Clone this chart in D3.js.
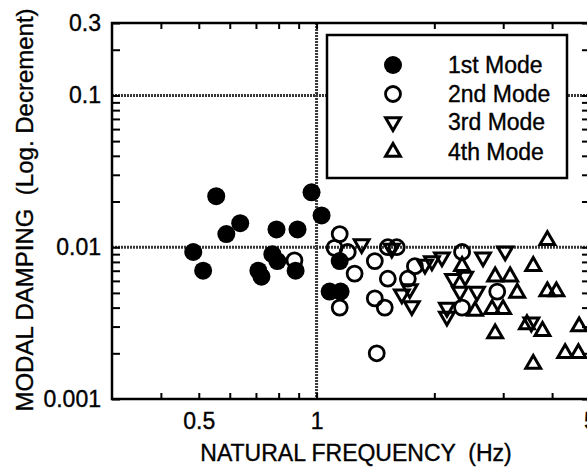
<!DOCTYPE html>
<html>
<head>
<meta charset="utf-8">
<script src="https://cdn.jsdelivr.net/npm/d3@7"></script>
<style>
  body { margin: 0; background: #fff; }
  svg { display: block; font-family: "Liberation Sans", Arial, sans-serif; }
  svg text { fill: #000; stroke: #000; stroke-width: 0.35; }
  .frame { fill: none; stroke: #000; stroke-width: 2.5; }
  .grid { stroke: #383838; stroke-width: 3; stroke-dasharray: 2,1; }
  .tick line { stroke: #000; stroke-width: 2; }
  .tick text { font-size: 23px; }
</style>
</head>
<body>
<div id="chart"></div>
<script>
// [frequency (Hz), damping (log. decrement)]
const mode1 = [
  [0.554, 0.0217], [0.638, 0.0144], [0.588, 0.0122], [0.790, 0.0131],
  [0.894, 0.0131], [0.971, 0.0230], [1.030, 0.0162], [0.484, 0.0093],
  [0.513, 0.0070], [0.771, 0.0090], [0.794, 0.0081], [0.710, 0.0070],
  [0.723, 0.0064], [0.884, 0.0070], [1.146, 0.0081], [1.080, 0.0051],
  [1.152, 0.0051]
];
const mode2 = [
  [0.878, 0.0082], [1.146, 0.0122], [1.112, 0.0099], [1.201, 0.0093],
  [1.251, 0.0067], [1.146, 0.0040], [1.409, 0.0081], [1.521, 0.0100],
  [1.603, 0.0100], [1.521, 0.0062], [1.409, 0.0046], [1.494, 0.0040],
  [1.425, 0.0020], [1.784, 0.0075], [1.711, 0.0062], [2.355, 0.0093],
  [2.355, 0.0040], [2.896, 0.0051]
];
const mode3 = [
  [1.304, 0.0105], [1.557, 0.0098], [1.652, 0.0049], [1.731, 0.0053],
  [1.752, 0.0041], [1.893, 0.0077], [1.972, 0.0081], [2.092, 0.0086],
  [2.154, 0.0040], [2.154, 0.0035], [2.233, 0.0062], [2.398, 0.0064],
  [2.326, 0.0051], [2.571, 0.0051], [2.664, 0.0086], [3.035, 0.0094],
  [3.540, 0.0032]
];
const mode4 = [
  [3.890, 0.0111], [2.355, 0.0075], [3.580, 0.0075], [2.861, 0.0064],
  [3.125, 0.0064], [3.258, 0.0050], [3.890, 0.0051], [4.102, 0.0051],
  [2.542, 0.0038], [2.810, 0.0039], [2.998, 0.0039], [3.450, 0.0031],
  [3.780, 0.0028], [2.861, 0.0027], [4.690, 0.0030], [4.320, 0.0020],
  [4.670, 0.0020], [3.580, 0.0017]
];
const legendLabels = ["1st Mode", "2nd Mode", "3rd Mode", "4th Mode"];
const xTicks = [0.4, 0.5, 0.6, 0.7, 0.8, 0.9, 1, 2, 3, 4, 5];
const xLabels = [0.5, 1, 5];
const yTicks = [0.002, 0.003, 0.004, 0.005, 0.006, 0.007, 0.008, 0.009, 0.01,
  0.02, 0.03, 0.04, 0.05, 0.06, 0.07, 0.08, 0.09, 0.1, 0.2, 0.3, 0.001];
const yLabels = [0.001, 0.01, 0.1, 0.3];
const xGrid = [1];
const yGrid = [0.01, 0.1];

const W = 587, H = 473;
const svg = d3.select("#chart").append("svg").attr("width", W).attr("height", H);

const x = d3.scaleLog().domain([0.3, 5]).range([112, 590]);
const y = d3.scaleLog().domain([0.001, 0.3]).range([399, 23]);

// grid lines
svg.selectAll(".gx").data(xGrid).enter().append("line")
  .attr("class", "grid")
  .attr("x1", d => x(d)).attr("x2", d => x(d))
  .attr("y1", y.range()[1]).attr("y2", y.range()[0]);
svg.selectAll(".gy").data(yGrid).enter().append("line")
  .attr("class", "grid")
  .attr("y1", d => y(d)).attr("y2", d => y(d))
  .attr("x1", x.range()[0]).attr("x2", x.range()[1]);

// axes, ticks pointing inward
const fmt = list => d => list.includes(d) ? String(d) : "";
svg.append("g")
  .attr("transform", `translate(0,${y.range()[0]})`)
  .call(d3.axisBottom(x).tickValues(xTicks).tickFormat(fmt(xLabels))
    .tickSizeInner(-6).tickSizeOuter(0).tickPadding(14))
  .call(g => g.select(".domain").remove());
svg.append("g")
  .attr("transform", `translate(0,${y.range()[1]})`)
  .call(d3.axisTop(x).tickValues(xTicks).tickFormat("").tickSizeInner(-6).tickSizeOuter(0))
  .call(g => g.select(".domain").remove());
svg.append("g")
  .attr("transform", `translate(${x.range()[0]},0)`)
  .call(d3.axisLeft(y).tickValues(yTicks).tickFormat(fmt(yLabels))
    .tickSizeInner(-8).tickSizeOuter(0).tickPadding(11))
  .call(g => g.select(".domain").remove());
svg.append("g")
  .attr("transform", `translate(${x.range()[1]},0)`)
  .call(d3.axisRight(y).tickValues(yTicks).tickFormat("").tickSizeInner(-8).tickSizeOuter(0))
  .call(g => g.select(".domain").remove());

svg.append("rect").attr("class", "frame")
  .attr("x", x.range()[0]).attr("y", y.range()[1])
  .attr("width", x.range()[1] - x.range()[0])
  .attr("height", y.range()[0] - y.range()[1]);

// axis titles
svg.append("text")
  .attr("x", 356).attr("y", 461)
  .attr("text-anchor", "middle")
  .style("font-size", "23px").style("white-space", "pre")
  .text("NATURAL FREQUENCY  (Hz)");
svg.append("text")
  .attr("transform", "translate(33,210) rotate(-90)")
  .attr("text-anchor", "middle")
  .style("font-size", "24px").style("white-space", "pre")
  .text("MODAL DAMPING  (Log. Decrement)");

// markers
const tri = d3.symbol().type(d3.symbolTriangle).size(95);
const styles = [
  {fill: "#000", stroke: "none", shape: "circle", r: 9},
  {fill: "none", stroke: "#000", shape: "circle", r: 7.5},
  {fill: "none", stroke: "#000", shape: "down"},
  {fill: "none", stroke: "#000", shape: "up"}
];
function marker(sel, st) {
  if (st.shape === "circle") {
    sel.append("circle").attr("r", st.r)
      .attr("fill", st.fill).attr("stroke", st.stroke).attr("stroke-width", 2.8);
  } else {
    sel.append("path").attr("d", tri)
      .attr("transform", st.shape === "down" ? "rotate(180)" : null)
      .attr("fill", "none").attr("stroke", "#000").attr("stroke-width", 3)
      .attr("stroke-linejoin", "miter");
  }
}

const series = [mode1, mode2, mode3, mode4];
[1, 2, 3, 0].forEach(i => {
  svg.append("g").selectAll("g").data(series[i]).enter().append("g")
    .attr("transform", d => `translate(${x(d[0])},${y(d[1])})`)
    .each(function() { marker(d3.select(this), styles[i]); });
});

// legend
const lg = svg.append("g");
lg.append("rect").attr("x", 327).attr("y", 35).attr("width", 240).attr("height", 143)
  .attr("fill", "#fff").attr("stroke", "#000").attr("stroke-width", 2.5);
const rowY = [65, 94, 122, 152];
legendLabels.forEach((lab, i) => {
  const row = lg.append("g").attr("transform", `translate(393,${rowY[i]})`);
  marker(row, styles[i]);
  row.append("text").attr("x", 55).attr("dy", "0.35em")
    .style("font-size", "23px").text(lab);
});
</script>
</body>
</html>
